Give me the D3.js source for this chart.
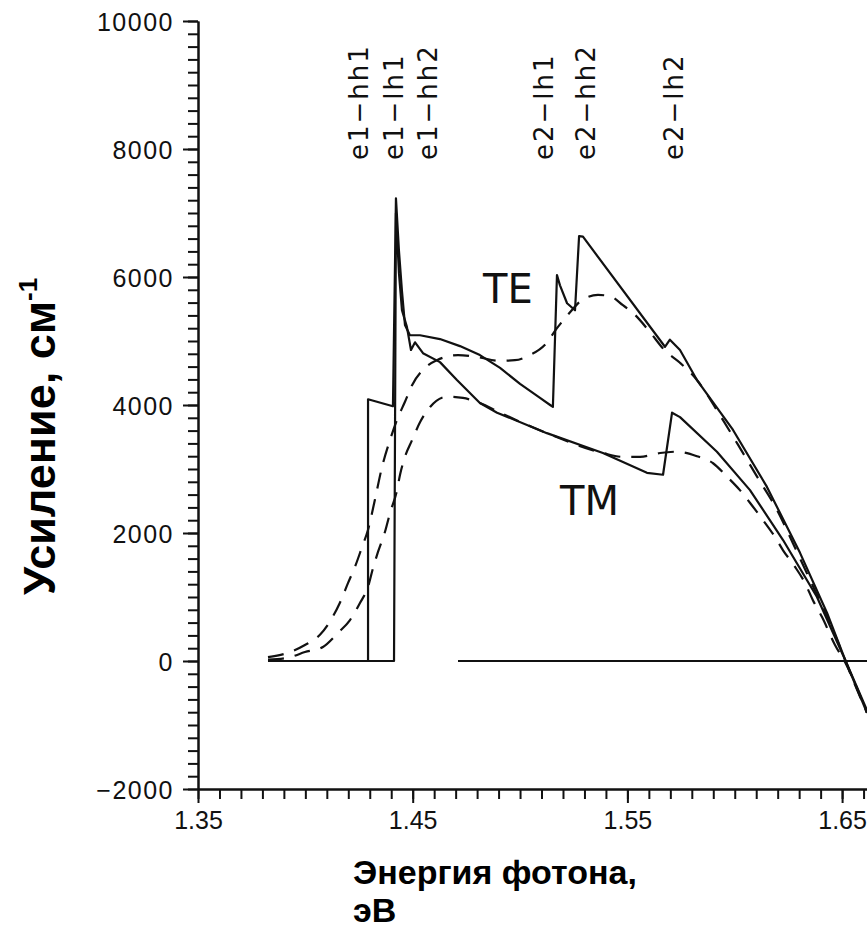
<!DOCTYPE html>
<html>
<head>
<meta charset="utf-8">
<script src="https://cdn.jsdelivr.net/npm/d3@7"></script>
<style>
  body { margin: 0; background: #fff; }
  svg { display: block; }
</style>
</head>
<body>
<div id="chart"></div>
<script>
// photon energy (eV) and gain (1/cm)
var teSolidE = [1.3826, 1.4292, 1.4292, 1.4408, 1.4422, 1.4436, 1.4450, 1.4464, 1.4487, 1.4534, 1.4627, 1.4720, 1.4813, 1.4907, 1.5000, 1.5093, 1.5140, 1.5153, 1.5172, 1.5186, 1.5219, 1.5256, 1.5275, 1.5293, 1.5675, 1.5698, 1.5745, 1.5824, 1.5992, 1.6150, 1.6304, 1.6430, 1.6514, 1.6616];
var teSolidG = [0, 0, 4090, 3980, 7230, 6410, 5780, 5250, 5090, 5090, 5030, 4920, 4780, 4580, 4330, 4110, 4000, 3970, 6030, 5870, 5590, 5480, 6640, 6630, 4910, 5020, 4860, 4390, 3610, 2720, 1690, 750, 20, -770];

var tmSolidE = [1.3826, 1.4413, 1.4422, 1.4436, 1.4450, 1.4473, 1.4492, 1.4511, 1.4548, 1.4627, 1.4706, 1.4813, 1.4893, 1.5125, 1.5386, 1.5591, 1.5666, 1.5708, 1.5745, 1.5917, 1.6071, 1.6225, 1.6383, 1.6514, 1.6616];
var tmSolidG = [0, 0, 7000, 6060, 5480, 5220, 4860, 4980, 4810, 4670, 4390, 4030, 3880, 3560, 3250, 2940, 2910, 3880, 3810, 3270, 2670, 1890, 1000, 20, -810];

var teDashE = [1.3826, 1.3929, 1.3998, 1.4068, 1.4124, 1.4161, 1.4199, 1.4231, 1.4264, 1.4292, 1.4324, 1.4357, 1.4394, 1.4427, 1.4464, 1.4497, 1.4557, 1.4613, 1.4711, 1.4799, 1.4907, 1.4976, 1.5046, 1.5116, 1.5172, 1.5223, 1.5289, 1.5363, 1.5419, 1.5479, 1.5535, 1.5605, 1.5675, 1.5745, 1.5824, 1.5922, 1.6015, 1.6104, 1.6197, 1.6271, 1.6350, 1.6420, 1.6490, 1.6551, 1.6616];
var teDashG = [60, 140, 250, 410, 670, 910, 1220, 1470, 1780, 2050, 2520, 3030, 3450, 3770, 4050, 4310, 4580, 4700, 4780, 4750, 4690, 4700, 4780, 4940, 5200, 5410, 5640, 5720, 5700, 5560, 5410, 5140, 4850, 4660, 4390, 3890, 3380, 2880, 2360, 1840, 1270, 770, 220, -300, -810];

var tmDashE = [1.3826, 1.3929, 1.3998, 1.4082, 1.4152, 1.4208, 1.4255, 1.4292, 1.4315, 1.4338, 1.4371, 1.4394, 1.4427, 1.4441, 1.4464, 1.4497, 1.4534, 1.4581, 1.4660, 1.4734, 1.4813, 1.4907, 1.5125, 1.5386, 1.5479, 1.5559, 1.5652, 1.5731, 1.5824, 1.5899, 1.5964, 1.6024, 1.6085, 1.6132, 1.6187, 1.6225, 1.6281, 1.6327, 1.6364, 1.6406, 1.6467, 1.6514, 1.6616];
var tmDashG = [20, 60, 140, 220, 440, 640, 910, 1160, 1450, 1700, 2020, 2310, 2670, 2910, 3190, 3450, 3730, 3970, 4130, 4110, 4030, 3880, 3560, 3250, 3190, 3190, 3250, 3270, 3200, 3090, 2880, 2670, 2410, 2200, 1940, 1730, 1470, 1220, 950, 690, 250, -20, -810];

var zeroLineE = [1.4711, 1.6616];
var zeroLineG = [0, 0];

var transitionNames = ["e1\u2212hh1", "e1\u2212lh1", "e1\u2212hh2", "e2\u2212lh1", "e2\u2212hh2", "e2\u2212lh2"];
var transitionE = [1.4292, 1.4455, 1.4613, 1.5153, 1.5349, 1.5759];

var energyTicks = [1.35, 1.45, 1.55, 1.65];
var gainTicks = [-2000, 0, 2000, 4000, 6000, 8000, 10000];

var width = 867, height = 929;

var svg = d3.select("#chart").append("svg")
  .attr("width", width)
  .attr("height", height);

var x = d3.scaleLinear().domain([1.35, 1.6616]).range([198, 867]);
var y = d3.scaleLinear().domain([-2000, 10000]).range([789, 21]);

var tickFont = "Liberation Sans, Arial, sans-serif";
var labelFont = "DejaVu Sans, sans-serif";

// minor ticks
var minorX = d3.range(1.35, 1.665, 0.01);
var minorY = d3.range(-2000, 10001, 200);

svg.append("g")
  .attr("transform", "translate(0,789)")
  .call(d3.axisBottom(x).tickValues(minorX).tickSize(10).tickSizeOuter(0).tickFormat(""));
var gx = svg.append("g")
  .attr("transform", "translate(0,789)")
  .call(d3.axisBottom(x).tickValues(energyTicks).tickSize(14).tickSizeOuter(0).tickFormat(d3.format(".2f")));

svg.append("g")
  .attr("transform", "translate(198,0)")
  .call(d3.axisLeft(y).tickValues(minorY).tickSize(10).tickSizeOuter(0).tickFormat(""));
var gy = svg.append("g")
  .attr("transform", "translate(198,0)")
  .call(d3.axisLeft(y).tickValues(gainTicks).tickSize(15).tickSizeOuter(0)
    .tickFormat(function (d) { return d < 0 ? "\u2212" + Math.abs(d) : String(d); }));

svg.selectAll(".domain, .tick line").attr("stroke", "#111").attr("stroke-width", 2);
svg.selectAll(".tick text")
  .attr("fill", "#111")
  .style("font-family", tickFont)
  .style("font-size", "25px");
gx.selectAll("text").attr("y", 40).attr("dy", 0);
gy.selectAll("text").attr("x", -24).attr("dy", "0.36em").style("letter-spacing", "1.5px");

// curves
var line = d3.line().x(function (d) { return x(d[0]); }).y(function (d) { return y(d[1]); });
var smooth = d3.line().curve(d3.curveMonotoneX).x(function (d) { return x(d[0]); }).y(function (d) { return y(d[1]); });

var series = [
  {e: teSolidE, g: teSolidG, gen: line, dash: null},
  {e: tmSolidE, g: tmSolidG, gen: line, dash: null},
  {e: teDashE, g: teDashG, gen: smooth, dash: "16,11"},
  {e: tmDashE, g: tmDashG, gen: smooth, dash: "16,11"},
  {e: zeroLineE, g: zeroLineG, gen: line, dash: null}
];

svg.append("g").selectAll("path")
  .data(series)
  .enter().append("path")
  .attr("d", function (s) { return s.gen(d3.zip(s.e, s.g)); })
  .attr("fill", "none")
  .attr("stroke", "#111")
  .attr("stroke-width", 2.2)
  .attr("stroke-linejoin", "round")
  .attr("stroke-dasharray", function (s) { return s.dash; });

// transition labels
svg.append("g").selectAll("text")
  .data(transitionNames)
  .enter().append("text")
  .attr("transform", function (d, i) { return "translate(" + x(transitionE[i]) + ",160) rotate(-90)"; })
  .style("font-family", labelFont)
  .style("font-size", "26px")
  .style("letter-spacing", "2px")
  .attr("fill", "#111")
  .text(function (d) { return d; });

svg.append("text").attr("x", 483).attr("y", 303)
  .style("font-family", labelFont).style("font-size", "40px").attr("fill", "#111").text("TE");
svg.append("text").attr("x", 560).attr("y", 515)
  .style("font-family", labelFont).style("font-size", "40px").attr("fill", "#111").text("TM");

// axis titles
var yTitle = svg.append("text")
  .attr("transform", "translate(55,595) rotate(-90)")
  .style("font-family", "Liberation Sans, Arial, sans-serif")
  .style("font-weight", "bold")
  .style("font-size", "45px")
  .attr("fill", "#000");
yTitle.append("tspan").text("Усиление, см");
yTitle.append("tspan").attr("dy", -18).style("font-size", "26px").text("-1");

svg.append("text").attr("x", 353).attr("y", 884)
  .style("font-family", "Liberation Sans, Arial, sans-serif")
  .style("font-weight", "bold").style("font-size", "34px").attr("fill", "#000")
  .text("Энергия фотона,");
svg.append("text").attr("x", 353).attr("y", 922)
  .style("font-family", "Liberation Sans, Arial, sans-serif")
  .style("font-weight", "bold").style("font-size", "34px").attr("fill", "#000")
  .text("эВ");
</script>
</body>
</html>
